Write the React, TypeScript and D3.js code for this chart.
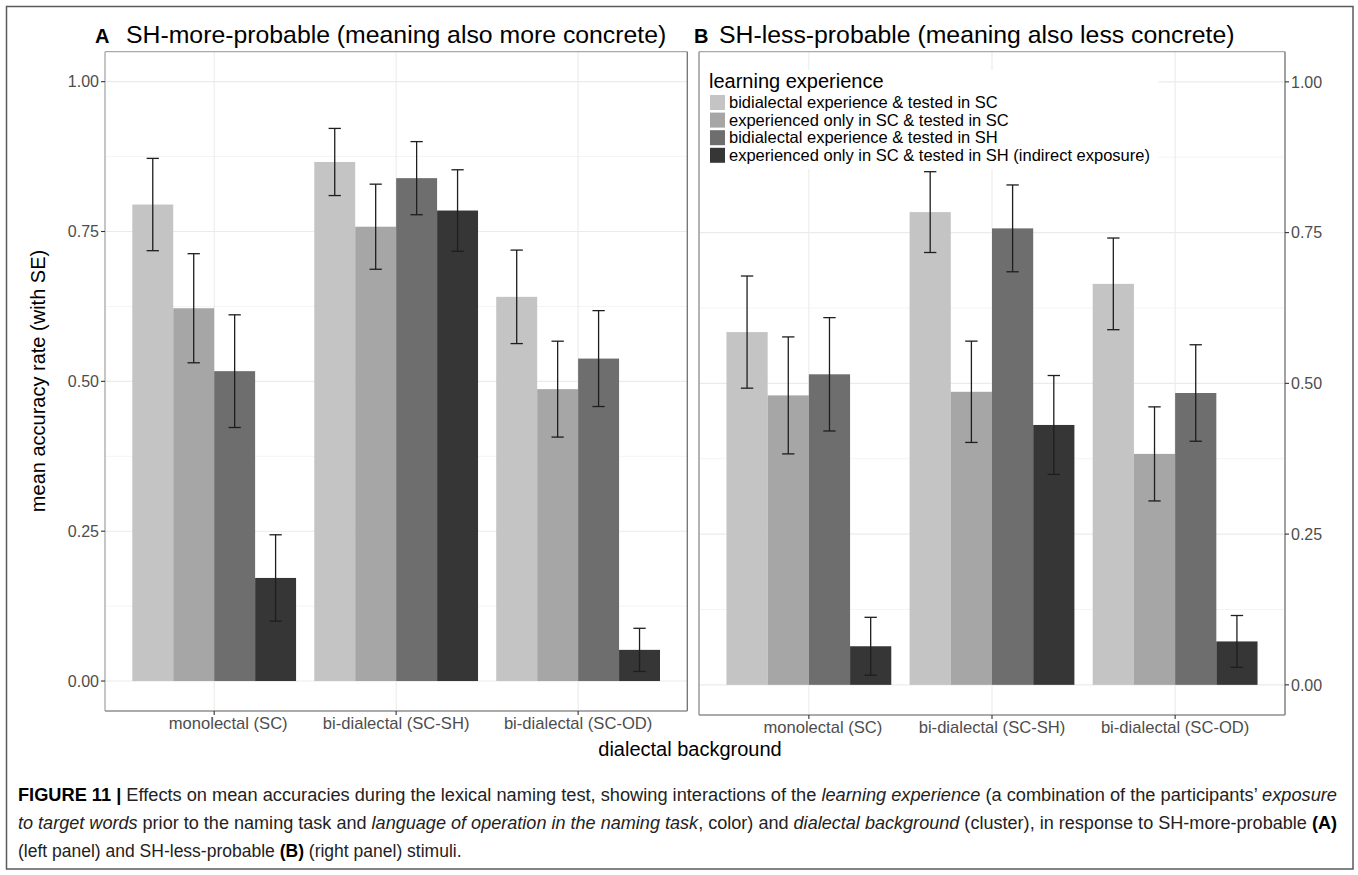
import React from "react";
import * as d3 from "d3";

// Dialectal background clusters on the x axis
const groups = ["monolectal (SC)", "bi-dialectal (SC-SH)", "bi-dialectal (SC-OD)"];

// Learning-experience conditions (bar fill within each cluster)
const experiences = [
  "bidialectal experience & tested in SC",
  "experienced only in SC & tested in SC",
  "bidialectal experience & tested in SH",
  "experienced only in SC & tested in SH (indirect exposure)",
];
const greys = ["#c4c4c4", "#a6a6a6", "#6e6e6e", "#363636"];

// Panel A: SH-more-probable stimuli — mean accuracy and SE, [group][experience]
const meanMore = [
  [0.795, 0.622, 0.517, 0.172],
  [0.866, 0.758, 0.839, 0.785],
  [0.641, 0.487, 0.538, 0.052],
];
const seMore = [
  [0.077, 0.091, 0.094, 0.072],
  [0.056, 0.071, 0.061, 0.068],
  [0.078, 0.080, 0.080, 0.036],
];

// Panel B: SH-less-probable stimuli
const meanLess = [
  [0.585, 0.480, 0.515, 0.064],
  [0.784, 0.486, 0.757, 0.431],
  [0.665, 0.383, 0.484, 0.072],
];
const seLess = [
  [0.093, 0.097, 0.094, 0.048],
  [0.067, 0.084, 0.072, 0.082],
  [0.076, 0.078, 0.080, 0.043],
];

const yMajor = [0, 0.25, 0.5, 0.75, 1];
const yMinor = [0.125, 0.375, 0.625, 0.875];

const FONT = "'Liberation Sans', Arial, Helvetica, sans-serif";
const AXIS_TEXT = "#4d4d4d";

type Seg = { t: string; b?: boolean; i?: boolean };
const captionLines: Seg[][] = [
  [
    { t: "FIGURE 11", b: true },
    { t: " | ", b: true },
    { t: "Effects on mean accuracies during the lexical naming test, showing interactions of the " },
    { t: "learning experience", i: true },
    { t: " (a combination of the participants’ " },
    { t: "exposure", i: true },
  ],
  [
    { t: "to target words", i: true },
    { t: " prior to the naming task and " },
    { t: "language of operation in the naming task", i: true },
    { t: ", color) and " },
    { t: "dialectal background", i: true },
    { t: " (cluster), in response to SH-more-probable " },
    { t: "(A)", b: true },
  ],
  [
    { t: "(left panel) and SH-less-probable " },
    { t: "(B)", b: true },
    { t: " (right panel) stimuli." },
  ],
];

type PanelProps = {
  box: { left: number; right: number; top: number; bottom: number };
  means: number[][];
  ses: number[][];
  axisSide: "left" | "right";
  legend?: boolean;
};

function Panel({ box, means, ses, axisSide, legend }: PanelProps) {
  const { left, right, top, bottom } = box;
  const x = d3.scalePoint<string>().domain(groups).range([left, right]).padding(0.6);
  const step = x.step();
  const dodge = d3
    .scaleBand<string>()
    .domain(experiences)
    .range([-0.45 * step, 0.45 * step])
    .padding(0);
  const y = d3.scaleLinear().domain([-0.05, 1.05]).range([bottom, top]);
  const bw = dodge.bandwidth();
  const capHalf = bw * 0.15;
  const firstLabelNudge = 14;

  return (
    <g>
      {/* grid */}
      <rect x={left} y={top} width={right - left} height={bottom - top} fill="#ffffff" />
      {yMinor.map((v) => (
        <line key={"mn" + v} x1={left} x2={right} y1={y(v)} y2={y(v)} stroke="#f4f4f4" strokeWidth={1} />
      ))}
      {yMajor.map((v) => (
        <line key={"mj" + v} x1={left} x2={right} y1={y(v)} y2={y(v)} stroke="#ebebeb" strokeWidth={1.1} />
      ))}
      {groups.map((g) => (
        <line key={"vg" + g} x1={x(g)} x2={x(g)} y1={top} y2={bottom} stroke="#ebebeb" strokeWidth={1.1} />
      ))}

      {/* bars */}
      {groups.map((g, gi) =>
        experiences.map((e, ei) => (
          <rect
            key={g + e}
            x={(x(g) as number) + (dodge(e) as number)}
            y={y(means[gi][ei])}
            width={bw}
            height={y(0) - y(means[gi][ei])}
            fill={greys[ei]}
          />
        ))
      )}

      {/* standard-error bars */}
      {groups.map((g, gi) =>
        experiences.map((e, ei) => {
          const cx = (x(g) as number) + (dodge(e) as number) + bw / 2;
          const hi = y(means[gi][ei] + ses[gi][ei]);
          const lo = y(means[gi][ei] - ses[gi][ei]);
          return (
            <g key={"eb" + g + e} stroke="#1e1e1e" strokeWidth={1.3}>
              <line x1={cx} x2={cx} y1={hi} y2={lo} />
              <line x1={cx - capHalf} x2={cx + capHalf} y1={hi} y2={hi} />
              <line x1={cx - capHalf} x2={cx + capHalf} y1={lo} y2={lo} />
            </g>
          );
        })
      )}

      {legend && (
        <g fontFamily={FONT}>
          <rect x={left + 0.5} y={70} width={1158 - left} height={99} fill="#ffffff" />
          <text x={709} y={88} fontSize={20} fill="#000">
            learning experience
          </text>
          {experiences.map((e, i) => (
            <g key={"lg" + e}>
              <rect x={710} y={95 + i * 17.6} width={15} height={15} fill={greys[i]} />
              <text x={729} y={95 + i * 17.6 + 13} fontSize={16.5} fill="#000">
                {e}
              </text>
            </g>
          ))}
        </g>
      )}

      {/* panel border */}
      <line x1={left} x2={right} y1={top} y2={top} stroke="#a8a8a8" strokeWidth={1.3} />
      <line x1={left} x2={left} y1={top} y2={bottom} stroke={axisSide === "left" ? "#a8a8a8" : "#8a8a8a"} strokeWidth={1.3} />
      <line x1={right} x2={right} y1={top} y2={bottom} stroke="#707070" strokeWidth={1.3} />
      <line x1={left} x2={right} y1={bottom} y2={bottom} stroke="#8f8f8f" strokeWidth={1.3} />

      {/* y axis */}
      {yMajor.map((v) => {
        const ax = axisSide === "left" ? left : right;
        const dir = axisSide === "left" ? -1 : 1;
        return (
          <g key={"yt" + v}>
            <line x1={ax} x2={ax + dir * 4} y1={y(v)} y2={y(v)} stroke="#333" strokeWidth={1.1} />
            <text
              x={ax + dir * 6}
              y={y(v)}
              dy="0.36em"
              textAnchor={axisSide === "left" ? "end" : "start"}
              fontFamily={FONT}
              fontSize={16}
              fill={AXIS_TEXT}
            >
              {d3.format(".2f")(v)}
            </text>
          </g>
        );
      })}

      {/* x axis */}
      {groups.map((g, gi) => (
        <g key={"xt" + g}>
          <line x1={x(g)} x2={x(g)} y1={bottom} y2={bottom + 4} stroke="#333" strokeWidth={1.1} />
          <text
            x={(x(g) as number) + (gi === 0 ? firstLabelNudge : 0)}
            y={bottom + 18}
            textAnchor="middle"
            fontFamily={FONT}
            fontSize={16.6}
            fill={AXIS_TEXT}
          >
            {g}
          </text>
        </g>
      ))}
    </g>
  );
}

export default function App() {
  const W = 1358;
  const H = 875;
  const capWidth = 1319;

  return (
    <svg
      width={W}
      height={H}
      viewBox={`0 0 ${W} ${H}`}
      style={{ position: "absolute", left: 0, top: 0, display: "block", background: "#fff" }}
    >
      <rect x={0} y={0} width={W} height={H} fill="#ffffff" />
      <rect x={6.5} y={6.5} width={1346.5} height={862.5} fill="none" stroke="#5a5a5a" strokeWidth={1.5} />

      {/* panel titles */}
      <g fontFamily={FONT} fill="#000">
        <text x={95} y={43} fontSize={20} fontWeight="bold">A</text>
        <text x={126} y={43} fontSize={24.8}>SH-more-probable (meaning also more concrete)</text>
        <text x={694} y={43} fontSize={20} fontWeight="bold">B</text>
        <text x={719} y={43} fontSize={24.8}>SH-less-probable (meaning also less concrete)</text>
      </g>

      <Panel box={{ left: 105, right: 687.3, top: 51.7, bottom: 711 }} means={meanMore} ses={seMore} axisSide="left" />
      <Panel
        box={{ left: 699, right: 1285, top: 51.7, bottom: 715 }}
        means={meanLess}
        ses={seLess}
        axisSide="right"
        legend
      />

      {/* shared axis titles */}
      <text
        transform="translate(45,381) rotate(-90)"
        textAnchor="middle"
        fontFamily={FONT}
        fontSize={20}
        fill="#000"
      >
        mean accuracy rate (with SE)
      </text>
      <text x={690} y={756} textAnchor="middle" fontFamily={FONT} fontSize={20} fill="#000">
        dialectal background
      </text>

      {/* figure caption: first two lines justified to the full width */}
      <g transform="translate(18,0)" fontFamily={FONT} fontSize={17.5} fill="#222">
        {captionLines.map((line, li) => (
          <text
            key={"cap" + li}
            x={0}
            y={801 + li * 28}
            style={{ whiteSpace: "pre" }}
            {...(li < 2 ? { textLength: capWidth, lengthAdjust: "spacingAndGlyphs" } : {})}
          >
            {line.map((s, si) => (
              <tspan
                key={si}
                fontWeight={s.b ? "bold" : "normal"}
                fontStyle={s.i ? "italic" : "normal"}
                fill={s.b ? "#000" : "#222"}
              >
                {s.t}
              </tspan>
            ))}
          </text>
        ))}
      </g>
    </svg>
  );
}
